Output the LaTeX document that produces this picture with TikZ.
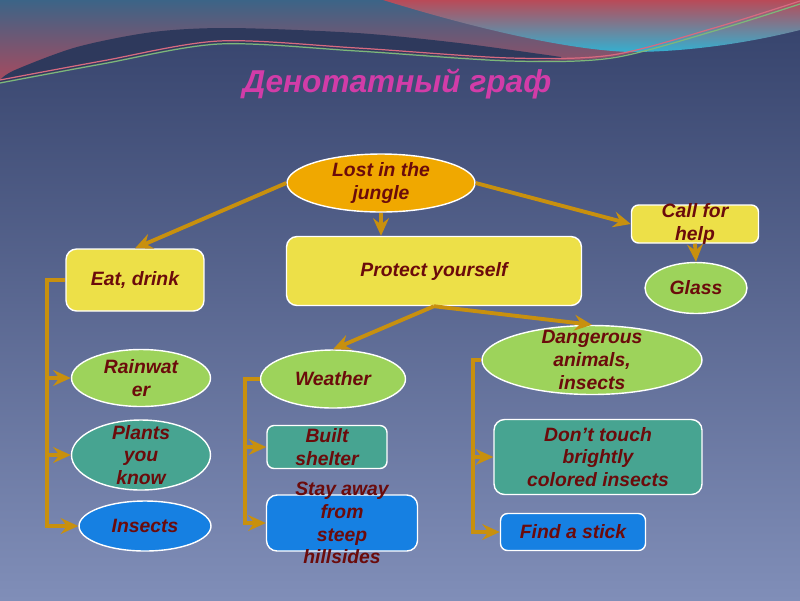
\documentclass[tikz,border=0pt]{standalone}
\usepackage{fontspec}
\setmainfont{Liberation Sans}
\usepackage{tikz}
\usetikzlibrary{arrows.meta}
\usetikzlibrary{shapes}

\definecolor{bgtop}{HTML}{34416A}
\definecolor{bgbot}{HTML}{808EB8}
\definecolor{waveteal}{HTML}{3C6487}
\definecolor{wavemauve}{HTML}{A84A5E}
\definecolor{wavered}{HTML}{B94A58}
\definecolor{wavecyan}{HTML}{34B0D0}
\definecolor{humpcol}{HTML}{2E395C}
\definecolor{pinkline}{HTML}{D86A80}
\definecolor{greenline}{HTML}{7CB87A}
\definecolor{orangefill}{HTML}{F0A800}
\definecolor{yellowfill}{HTML}{EDE048}
\definecolor{greenfill}{HTML}{9DD35B}
\definecolor{tealfill}{HTML}{47A491}
\definecolor{bluefill}{HTML}{1680E2}
\definecolor{linkcol}{HTML}{C8900E}
\definecolor{textcol}{HTML}{6B0B0B}
\definecolor{titlecol}{HTML}{D23CA8}

\tikzset{
  ell/.style={shape=ellipse, draw=white, line width=0.8pt, inner sep=0pt},
  box/.style={shape=rectangle, rounded corners=6pt, draw=white, line width=0.8pt, inner sep=0pt},
  txt/.style={text=textcol, font=\bfseries\itshape\fontsize{11}{13}\selectfont, align=center, inner sep=0pt},
  link/.style={draw=linkcol, line width=2.2pt, -{Stealth[length=10pt, width=9pt, inset=3.5pt]}}
}

\begin{document}
\begin{tikzpicture}[x=0.02cm, y=-0.02cm]

\useasboundingbox (0,0) rectangle (800,600);

% Background and top waves
\shade[top color=bgtop, bottom color=bgbot] (0,0) rectangle (800,600);
\shade[top color=waveteal, bottom color=wavemauve]
  (0,0) -- (800,0) -- plot[smooth] coordinates {(800,3) (714,30) (612,57) (510,60) (357,50) (219,43) (102,63) (0,82)} -- cycle;
\shade[top color=wavered, bottom color=wavecyan]
  (383,0) -- (800,0) -- (800,30) .. controls (740,45) and (680,52) .. (630,52) .. controls (570,50) and (480,30) .. (383,0) -- cycle;
\fill[humpcol]
  plot[smooth] coordinates {(0,82) (102,63) (219,43) (357,50) (510,60) (561,59)}
  -- plot[smooth] coordinates {(561,57) (459,43) (357,33) (230,28) (153,32) (77,47) (15,70) (0,80)} -- cycle;
\draw[pinkline, line width=0.7pt]
  plot[smooth] coordinates {(0,80) (102,61) (219,41) (357,48) (510,58) (612,55) (714,28) (800,1)};
\draw[greenline, line width=0.7pt]
  plot[smooth] coordinates {(0,83) (102,64) (219,44) (357,51) (510,61) (612,58) (714,31) (800,4)};

% Title
\node (title) [text=titlecol, font=\bfseries\itshape\fontsize{18}{21}\selectfont] at (397,84) {Денотатный граф};

% Nodes
\node (lost) [ell, fill=orangefill, minimum width=3.76cm, minimum height=1.16cm] at (381,183) {};
\node (eat) [box, fill=yellowfill, minimum width=2.76cm, minimum height=1.24cm] at (135,280) {};
\node (protect) [box, fill=yellowfill, minimum width=5.9cm, minimum height=1.38cm] at (434,271) {};
\node (call) [box, rounded corners=4pt, fill=yellowfill, minimum width=2.54cm, minimum height=0.76cm] at (695,224) {};
\node (glass) [ell, fill=greenfill, minimum width=2.04cm, minimum height=1.02cm] at (696,288) {};
\node (rain) [ell, fill=greenfill, minimum width=2.78cm, minimum height=1.14cm] at (141,378) {};
\node (plants) [ell, fill=tealfill, minimum width=2.78cm, minimum height=1.4cm] at (141,455) {};
\node (insects) [ell, fill=bluefill, minimum width=2.64cm, minimum height=1.0cm] at (145,526) {};
\node (weather) [ell, fill=greenfill, minimum width=2.9cm, minimum height=1.16cm] at (333,379) {};
\node (built) [box, rounded corners=4pt, fill=tealfill, minimum width=2.4cm, minimum height=0.86cm] at (327,447) {};
\node (stay) [box, fill=bluefill, minimum width=3.02cm, minimum height=1.12cm] at (342,523) {};
\node (danger) [ell, fill=greenfill, minimum width=4.4cm, minimum height=1.38cm] at (592,360) {};
\node (touch) [box, fill=tealfill, minimum width=4.16cm, minimum height=1.5cm] at (598,457) {};
\node (stick) [box, rounded corners=4pt, fill=bluefill, minimum width=2.9cm, minimum height=0.74cm] at (573,532) {};

% Texts
\node (lost-t) [txt] at (lost) {Lost in the\\jungle};
\node (eat-t) [txt] at (eat) {Eat, drink};
\node (protect-t) [txt] at (protect) {Protect yourself};
\node (call-t) [txt] at (call) {Call for\\help};
\node (glass-t) [txt] at (glass) {Glass};
\node (rain-t) [txt] at (rain) {Rainwat\\er};
\node (plants-t) [txt] at (plants) {Plants\\you\\know};
\node (insects-t) [txt] at (insects) {Insects};
\node (weather-t) [txt] at (weather) {Weather};
\node (built-t) [txt] at (built) {Built\\shelter};
\node (stay-t) [txt] at (stay) {Stay away\\from\\steep\\hillsides};
\node (danger-t) [txt] at (danger) {Dangerous\\animals,\\insects};
\node (touch-t) [txt] at (touch) {Don’t touch\\brightly\\colored insects};
\node (stick-t) [txt] at (stick) {Find a stick};

% Edges
\draw[link] (lost.west) -- (eat.north);
\draw[link] (lost.south) -- (lost.south |- protect.north);
\draw[link] (lost.east) -- (call.west);
\draw[link] (call.south) -- (glass.north);
\draw[link] (protect.south) -- (weather.north);
\draw[link] (protect.south) -- (danger.north);

\coordinate (eatbus) at (47,280);
\draw[link] (eat.west) -- (eatbus) |- (insects.west);
\draw[link] (eatbus |- rain.west) -- (rain.west);
\draw[link] (eatbus |- plants.west) -- (plants.west);

\coordinate (weatherbus) at (245,379);
\draw[link] (weather.west) -- (weatherbus) |- (stay.west);
\draw[link] (weatherbus |- built.west) -- (built.west);

\coordinate (dangerbus) at (473,360);
\draw[link] (danger.west) -- (dangerbus) |- (stick.west);
\draw[link] (dangerbus |- touch.west) -- (touch.west);

\end{tikzpicture}
\end{document}
